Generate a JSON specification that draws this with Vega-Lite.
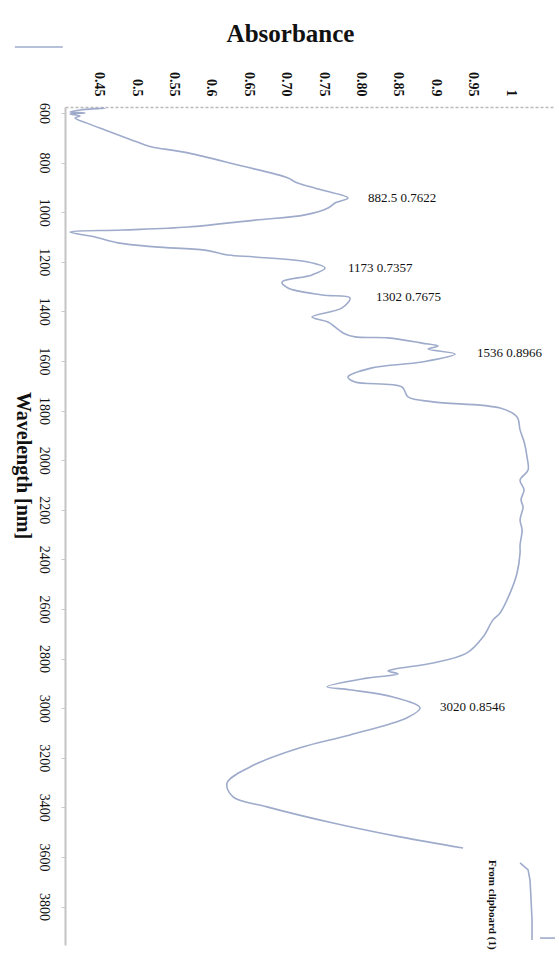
{
  "$schema": "https://vega.github.io/schema/vega-lite/v6.json",
  "autosize": "none",
  "width": 490,
  "height": 838,
  "padding": {"left": 65, "top": 107, "right": 4, "bottom": 14},
  "background": "white",
  "config": {"view": {"stroke": null}},
  "datasets": {
    "spectrum": [
      {"w": 584, "a": 0.4451}, {"w": 580, "a": 0.4584}, {"w": 588, "a": 0.4251}, {"w": 596, "a": 0.4117},
      {"w": 600, "a": 0.4318}, {"w": 604, "a": 0.4117}, {"w": 612, "a": 0.4251}, {"w": 620, "a": 0.4184},
      {"w": 641, "a": 0.4344}, {"w": 669, "a": 0.4585}, {"w": 729, "a": 0.5120}, {"w": 737, "a": 0.5213},
      {"w": 761, "a": 0.5694}, {"w": 810, "a": 0.6363}, {"w": 862, "a": 0.7031}, {"w": 878, "a": 0.7125},
      {"w": 911, "a": 0.7486}, {"w": 943, "a": 0.7833}, {"w": 963, "a": 0.7659}, {"w": 983, "a": 0.7566},
      {"w": 1011, "a": 0.7258}, {"w": 1032, "a": 0.6590}, {"w": 1060, "a": 0.5694}, {"w": 1072, "a": 0.4812},
      {"w": 1080, "a": 0.4117}, {"w": 1100, "a": 0.4451}, {"w": 1124, "a": 0.4759}, {"w": 1140, "a": 0.5253},
      {"w": 1153, "a": 0.5922}, {"w": 1173, "a": 0.6229}, {"w": 1181, "a": 0.6590}, {"w": 1201, "a": 0.7299},
      {"w": 1225, "a": 0.7526}, {"w": 1253, "a": 0.7352}, {"w": 1282, "a": 0.6951}, {"w": 1306, "a": 0.7031},
      {"w": 1334, "a": 0.7486}, {"w": 1346, "a": 0.7860}, {"w": 1386, "a": 0.7753}, {"w": 1423, "a": 0.7352},
      {"w": 1443, "a": 0.7566}, {"w": 1487, "a": 0.7766}, {"w": 1503, "a": 0.7927}, {"w": 1507, "a": 0.8368},
      {"w": 1528, "a": 0.8823}, {"w": 1540, "a": 0.9037}, {"w": 1552, "a": 0.8903}, {"w": 1572, "a": 0.9264},
      {"w": 1604, "a": 0.8823}, {"w": 1628, "a": 0.8154}, {"w": 1665, "a": 0.7833}, {"w": 1685, "a": 0.7927},
      {"w": 1705, "a": 0.8555}, {"w": 1745, "a": 0.8636}, {"w": 1765, "a": 0.8970}, {"w": 1790, "a": 0.9866},
      {"w": 1826, "a": 1.0093}, {"w": 1878, "a": 1.0133}, {"w": 1930, "a": 1.0190}, {"w": 1987, "a": 1.0226},
      {"w": 2040, "a": 1.0240}, {"w": 2080, "a": 1.0133}, {"w": 2120, "a": 1.0186}, {"w": 2160, "a": 1.0146},
      {"w": 2189, "a": 1.0173}, {"w": 2241, "a": 1.0133}, {"w": 2282, "a": 1.0160}, {"w": 2342, "a": 1.0133},
      {"w": 2374, "a": 1.0133}, {"w": 2455, "a": 1.0093}, {"w": 2536, "a": 0.9999}, {"w": 2616, "a": 0.9866},
      {"w": 2644, "a": 0.9772}, {"w": 2713, "a": 0.9638}, {"w": 2777, "a": 0.9424}, {"w": 2818, "a": 0.8970},
      {"w": 2842, "a": 0.8462}, {"w": 2850, "a": 0.8368}, {"w": 2862, "a": 0.8502}, {"w": 2879, "a": 0.8087},
      {"w": 2914, "a": 0.7553}, {"w": 2926, "a": 0.7860}, {"w": 2955, "a": 0.8435}, {"w": 2999, "a": 0.8796},
      {"w": 3039, "a": 0.8622}, {"w": 3108, "a": 0.7860}, {"w": 3160, "a": 0.7192}, {"w": 3237, "a": 0.6523},
      {"w": 3302, "a": 0.6216}, {"w": 3358, "a": 0.6296}, {"w": 3398, "a": 0.6750}, {"w": 3463, "a": 0.7633},
      {"w": 3519, "a": 0.8529}, {"w": 3564, "a": 0.9371}
    ],
    "legendline": [
      {"g": "sym", "w": 3624, "a": 1.0133}, {"g": "sym", "w": 3652, "a": 1.0240}, {"g": "sym", "w": 3693, "a": 1.0266},
      {"g": "sym", "w": 3773, "a": 1.0280}, {"g": "sym", "w": 3854, "a": 1.0293}, {"g": "sym", "w": 3935, "a": 1.0293},
      {"g": "tick", "w": 3927, "a": 1.0400}, {"g": "tick", "w": 3927, "a": 1.0600},
      {"g": "corner", "w": 334, "a": 0.3380}, {"g": "corner", "w": 334, "a": 0.4020}
    ],
    "peaks": [
      {"w": 943, "a": 0.8101, "label": "882.5  0.7622"},
      {"w": 1225, "a": 0.7833, "label": "1173  0.7357"},
      {"w": 1342, "a": 0.8208, "label": "1302  0.7675"},
      {"w": 1568, "a": 0.9558, "label": "1536  0.8966"},
      {"w": 2995, "a": 0.9063, "label": "3020  0.8546"}
    ],
    "legendtext": [
      {"w": 3612, "a": 0.9759, "label": "From clipboard (1)"}
    ]
  },
  "encoding": {
    "x": {
      "field": "a", "type": "quantitative",
      "scale": {"domain": [0.405, 1.06], "nice": false, "zero": false},
      "axis": {
        "orient": "top",
        "title": "Absorbance",
        "titleFont": "Liberation Serif", "titleFontWeight": "bold", "titleFontSize": 25, "titleColor": "#111",
        "titleX": 225, "titleY": -74, "titleBaseline": "middle", "titleAlign": "center",
        "values": [0.45, 0.5, 0.55, 0.6, 0.65, 0.7, 0.75, 0.8, 0.85, 0.9, 0.95, 1],
        "labelExpr": "(abs(datum.value-0.7)<0.001 || abs(datum.value-0.8)<0.001) ? format(datum.value,'.2f') : format(datum.value,'.2~f')",
        "labelAngle": 90, "labelAlign": "right", "labelBaseline": "middle",
        "labelFont": "Liberation Serif", "labelFontWeight": "bold", "labelFontSize": 14, "labelColor": "#111",
        "labelPadding": 11, "tickSize": 0,
        "domainColor": "#bbbbbb", "domainDash": [3, 2], "domainWidth": 1.5,
        "grid": false
      }
    },
    "y": {
      "field": "w", "type": "quantitative",
      "scale": {"domain": [576, 3955], "nice": false, "zero": false, "reverse": true},
      "axis": {
        "title": "Wavelength [nm]",
        "titleFont": "Liberation Serif", "titleFontWeight": "bold", "titleFontSize": 20, "titleColor": "#111",
        "titleAngle": 90, "titleX": -43, "titleY": 358, "titleAlign": "center", "titleBaseline": "middle",
        "values": [600, 800, 1000, 1200, 1400, 1600, 1800, 2000, 2200, 2400, 2600, 2800, 3000, 3200, 3400, 3600, 3800],
        "format": "d",
        "labelAngle": 90, "labelAlign": "center", "labelBaseline": "top",
        "labelFont": "Liberation Serif", "labelFontSize": 14, "labelColor": "#111",
        "labelPadding": 11, "tickSize": 4, "tickColor": "#cccccc",
        "domainColor": "#c4c4c4", "domainWidth": 2,
        "grid": false
      }
    }
  },
  "layer": [
    {
      "data": {"name": "spectrum"},
      "mark": {"type": "line", "color": "#9eabcb", "strokeWidth": 1.6, "interpolate": "catmull-rom"},
      "encoding": {"order": {"value": null}}
    },
    {
      "data": {"name": "legendline"},
      "mark": {"type": "line", "color": "#9eabcb", "strokeWidth": 1.6, "clip": false},
      "encoding": {"detail": {"field": "g"}, "order": {"value": null}}
    },
    {
      "data": {"name": "peaks"},
      "mark": {"type": "text", "align": "left", "baseline": "middle", "font": "Liberation Serif", "fontSize": 13, "color": "#111"},
      "encoding": {"text": {"field": "label"}}
    },
    {
      "data": {"name": "legendtext"},
      "mark": {"type": "text", "align": "left", "baseline": "middle", "angle": 90, "font": "Liberation Serif", "fontWeight": "bold", "fontSize": 11, "color": "#111"},
      "encoding": {"text": {"field": "label"}}
    }
  ]
}
